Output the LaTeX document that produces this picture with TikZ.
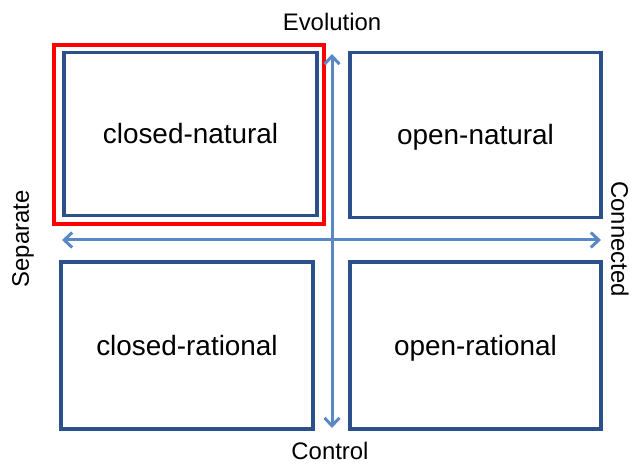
\documentclass[tikz,border=0pt]{standalone}
\usepackage{fontspec}
\setmainfont{Liberation Sans}
\usetikzlibrary{arrows.meta}
\definecolor{boxblue}{RGB}{44,80,138}
\definecolor{arrowblue}{RGB}{88,137,198}
\begin{document}
\begin{tikzpicture}[x=1bp,y=-1bp,
  quad/.style={draw=boxblue,line width=3.2bp,inner sep=0pt,text height=23bp,text depth=3bp,font=\fontsize{28}{32}\selectfont},
  axis/.style={draw=arrowblue,line width=3bp,{Straight Barb[length=8bp,width=15bp,line width=3bp]}-{Straight Barb[length=8bp,width=15bp,line width=3bp]}},
  axlabel/.style={font=\fontsize{24}{28}\selectfont,inner sep=0pt}]
\useasboundingbox (0,0) rectangle (639,464);
\node[quad,minimum width=253bp,minimum height=163bp] (cn) at (190.5,134) {closed-natural};
\node[quad,minimum width=251bp,minimum height=165bp] (on) at (475.5,135) {open-natural};
\node[quad,minimum width=252bp,minimum height=167bp] (cr) at (187,345.5) {closed-rational};
\node[quad,minimum width=251bp,minimum height=167bp] (or) at (475.5,345.5) {open-rational};
\draw[red,line width=4bp] (54,45) rectangle (324,224);
\coordinate (top) at (332,54);
\coordinate (bot) at (332,428);
\coordinate (lft) at (62,240);
\coordinate (rgt) at (601,240);
\draw[axis] (top) -- (bot);
\draw[axis] (lft) -- (rgt);
\node[axlabel] (ev) at (332,22) {Evolution};
\node[axlabel] (co) at (330,451) {Control};
\node[axlabel,rotate=90] (se) at (23,239) {Separate};
\node[axlabel,rotate=-90] (cd) at (620,239) {Connected};
\end{tikzpicture}
\end{document}
